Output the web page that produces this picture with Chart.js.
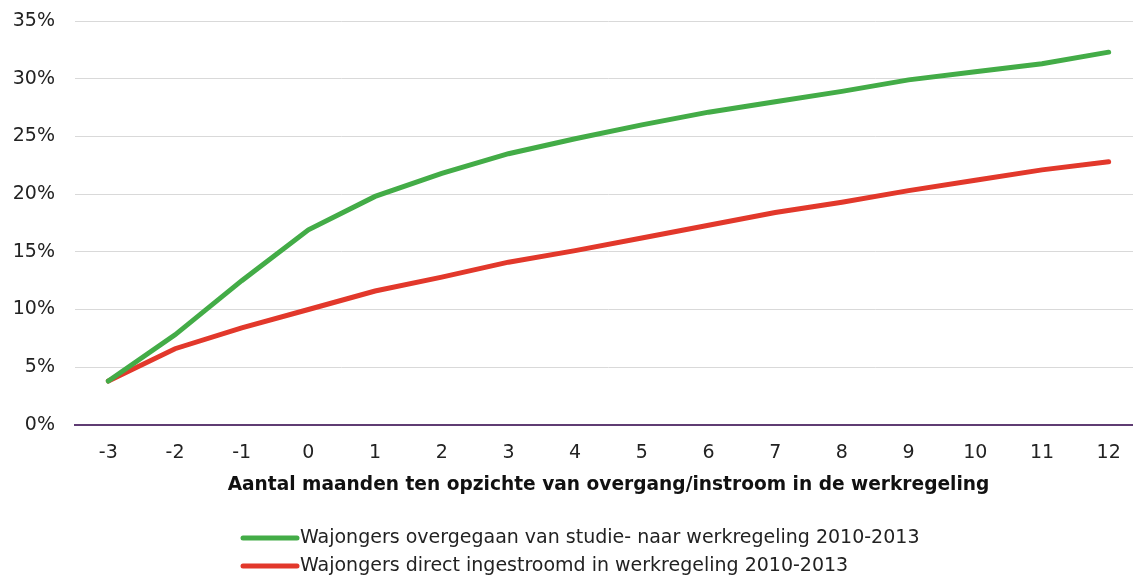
<!DOCTYPE html>
<html>
<head>
<meta charset="utf-8">
<script src="https://cdn.jsdelivr.net/npm/chart.js"></script>
<style>
  html, body { margin: 0; padding: 0; background: #fff; overflow: hidden; }
  #wrap { width: 1142px; height: 577px; }
</style>
</head>
<body>
<div id="wrap"><canvas id="chart"></canvas></div>
<script>
// months relative to transition / inflow
const months = ['-3', '-2', '-1', '0', '1', '2', '3', '4', '5', '6', '7', '8', '9', '10', '11', '12'];
const studieNaarWerk = [3.8, 7.8, 12.5, 16.9, 19.8, 21.8, 23.5, 24.8, 26.0, 27.1, 28.0, 28.9, 29.9, 30.6, 31.3, 32.3];
const directWerk = [3.8, 6.6, 8.4, 10.0, 11.6, 12.8, 14.1, 15.1, 16.2, 17.3, 18.4, 19.3, 20.3, 21.2, 22.1, 22.8];
const seriesNames = [
    'Wajongers overgegaan van studie- naar werkregeling 2010-2013',
    'Wajongers direct ingestroomd in werkregeling 2010-2013'
];
const xTitle = 'Aantal maanden ten opzichte van overgang/instroom in de werkregeling';

const FONT = '"DejaVu Sans", Verdana, sans-serif';

// legend stacked below the chart, left aligned
const stackedLegend = {
    id: 'stackedLegend',
    afterDraw(chart, args, opts) {
        const ctx = chart.ctx;
        ctx.save();
        ctx.font = opts.fontSize + 'px ' + FONT;
        ctx.textBaseline = 'middle';
        ctx.textAlign = 'left';
        chart.data.datasets.forEach((ds, i) => {
            const y = opts.top + i * opts.rowHeight;
            ctx.strokeStyle = ds.borderColor;
            ctx.lineWidth = 5;
            ctx.lineCap = 'round';
            ctx.beginPath();
            ctx.moveTo(opts.left, y);
            ctx.lineTo(opts.left + opts.sampleWidth, y);
            ctx.stroke();
            ctx.fillStyle = '#222';
            ctx.fillText(ds.label, opts.left + opts.sampleWidth + 3, y);
        });
        ctx.restore();
    }
};

const ctx = document.getElementById('chart').getContext('2d');
new Chart(ctx, {
    type: 'line',
    data: {
        labels: months,
        datasets: [
            {
                label: seriesNames[0],
                data: studieNaarWerk,
                borderColor: '#43ac47',
                borderWidth: 5,
                borderCapStyle: 'round',
                pointRadius: 0,
                fill: false,
                tension: 0
            },
            {
                label: seriesNames[1],
                data: directWerk,
                borderColor: '#e2382b',
                borderWidth: 5,
                borderCapStyle: 'round',
                pointRadius: 0,
                fill: false,
                tension: 0
            }
        ]
    },
    options: {
        responsive: true,
        maintainAspectRatio: false,
        animation: false,
        layout: {
            padding: { top: 0, right: 0, bottom: 81, left: 10 }
        },
        plugins: {
            legend: { display: false },
            tooltip: { enabled: false },
            stackedLegend: { left: 243, top: 538, rowHeight: 28, sampleWidth: 54, fontSize: 19 }
        },
        scales: {
            x: {
                offset: true,
                grid: { display: false },
                border: { display: true, color: '#5f3c73', width: 2 },
                ticks: {
                    color: '#222',
                    padding: 9,
                    maxRotation: 0,
                    autoSkip: false,
                    font: { family: FONT, size: 19 }
                },
                title: {
                    display: true,
                    text: xTitle,
                    color: '#111',
                    padding: { top: 0, bottom: 0 },
                    font: { family: FONT, size: 18.6, weight: 'bold' }
                }
            },
            y: {
                min: 0,
                max: 35,
                afterFit(scale) {
                    scale.width = 65;
                    scale.paddingTop = 21;
                },
                grid: { color: '#d9d9d9', lineWidth: 1, drawTicks: false },
                border: { display: false },
                ticks: {
                    stepSize: 5,
                    color: '#222',
                    padding: 20,
                    font: { family: FONT, size: 19 },
                    callback: v => v + '%'
                }
            }
        }
    },
    plugins: [stackedLegend]
});
</script>
</body>
</html>
